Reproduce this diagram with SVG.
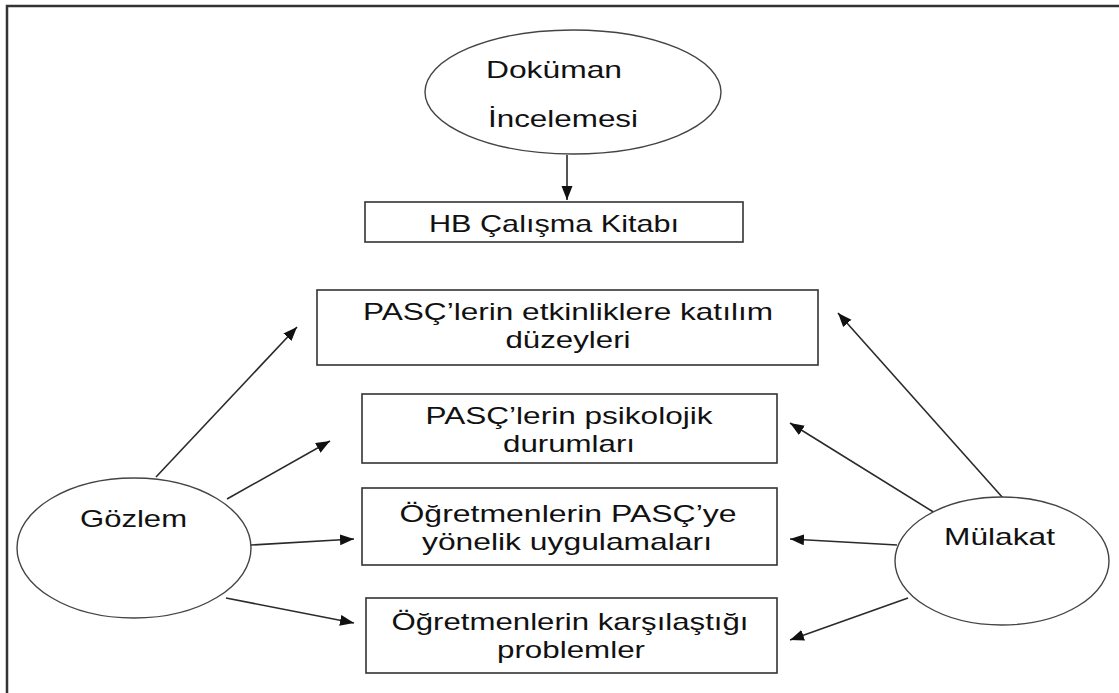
<svg xmlns="http://www.w3.org/2000/svg" width="1119" height="693" viewBox="0 0 1119 693">
<style>
.node{fill:#fff;stroke:#333;stroke-width:1.6}
.ell{fill:#fff;stroke:#444;stroke-width:1.4}
.t{font-family:"Liberation Sans",Arial,sans-serif;font-size:24px;fill:#111}
.c{text-anchor:middle}
.edge{stroke:#2a2a2a;stroke-width:1.6;fill:none;marker-end:url(#ah)}
.frame{stroke:#333;stroke-width:2.5;fill:none}
</style>
<defs>
<marker id="ah" markerUnits="userSpaceOnUse" markerWidth="15" markerHeight="12" refX="14" refY="5.5" orient="auto">
<path d="M0,0 L14,5.5 L0,11 z" fill="#111"/>
</marker>
</defs>
<rect width="1119" height="693" fill="#fff"/>
<path class="frame" d="M7,693 L7,6 L1119,6"/>

<g id="connectors">
<line class="edge" x1="567" y1="155" x2="567" y2="200"/>
<line class="edge" x1="156" y1="477" x2="297" y2="327"/>
<line class="edge" x1="227" y1="499" x2="330" y2="441"/>
<line class="edge" x1="251" y1="545" x2="354" y2="539"/>
<line class="edge" x1="226" y1="598" x2="354" y2="623"/>
<line class="edge" x1="1003" y1="498" x2="838" y2="313"/>
<line class="edge" x1="935" y1="513" x2="790" y2="423"/>
<line class="edge" x1="897" y1="545" x2="790" y2="539"/>
<line class="edge" x1="908" y1="598" x2="790" y2="640"/>
</g>

<g id="dokuman">
<ellipse class="ell" cx="573" cy="92" rx="148" ry="62"/>
<text class="t" x="486" y="78" textLength="136" lengthAdjust="spacingAndGlyphs">Doküman</text>
<text class="t" x="488" y="127" textLength="150" lengthAdjust="spacingAndGlyphs">İncelemesi</text>
</g>

<g id="hb">
<rect class="node" x="365" y="202" width="378" height="40"/>
<text class="t c" x="554" y="232" textLength="250" lengthAdjust="spacingAndGlyphs">HB Çalışma Kitabı</text>
</g>

<g id="box1">
<rect class="node" x="317" y="290" width="501" height="75"/>
<text class="t c" x="568" y="320" textLength="410" lengthAdjust="spacingAndGlyphs">PASÇ’lerin etkinliklere katılım</text>
<text class="t c" x="568" y="348" textLength="125" lengthAdjust="spacingAndGlyphs">düzeyleri</text>
</g>

<g id="box2">
<rect class="node" x="362" y="394" width="415" height="69"/>
<text class="t c" x="569" y="424" textLength="287" lengthAdjust="spacingAndGlyphs">PASÇ’lerin psikolojik</text>
<text class="t c" x="569" y="452" textLength="132" lengthAdjust="spacingAndGlyphs">durumları</text>
</g>

<g id="box3">
<rect class="node" x="362" y="488" width="415" height="77"/>
<text class="t c" x="568" y="522" textLength="337" lengthAdjust="spacingAndGlyphs">Öğretmenlerin PASÇ’ye</text>
<text class="t c" x="567" y="550" textLength="290" lengthAdjust="spacingAndGlyphs">yönelik uygulamaları</text>
</g>

<g id="box4">
<rect class="node" x="366" y="598" width="411" height="75"/>
<text class="t c" x="570" y="630" textLength="357" lengthAdjust="spacingAndGlyphs">Öğretmenlerin karşılaştığı</text>
<text class="t c" x="571" y="658" textLength="148" lengthAdjust="spacingAndGlyphs">problemler</text>
</g>

<g id="gozlem">
<ellipse class="ell" cx="134" cy="548" rx="117" ry="70"/>
<text class="t" x="80" y="527" textLength="107" lengthAdjust="spacingAndGlyphs">Gözlem</text>
</g>

<g id="mulakat">
<ellipse class="ell" cx="1002" cy="561" rx="107" ry="64"/>
<text class="t" x="944" y="545" textLength="111" lengthAdjust="spacingAndGlyphs">Mülakat</text>
</g>
</svg>
